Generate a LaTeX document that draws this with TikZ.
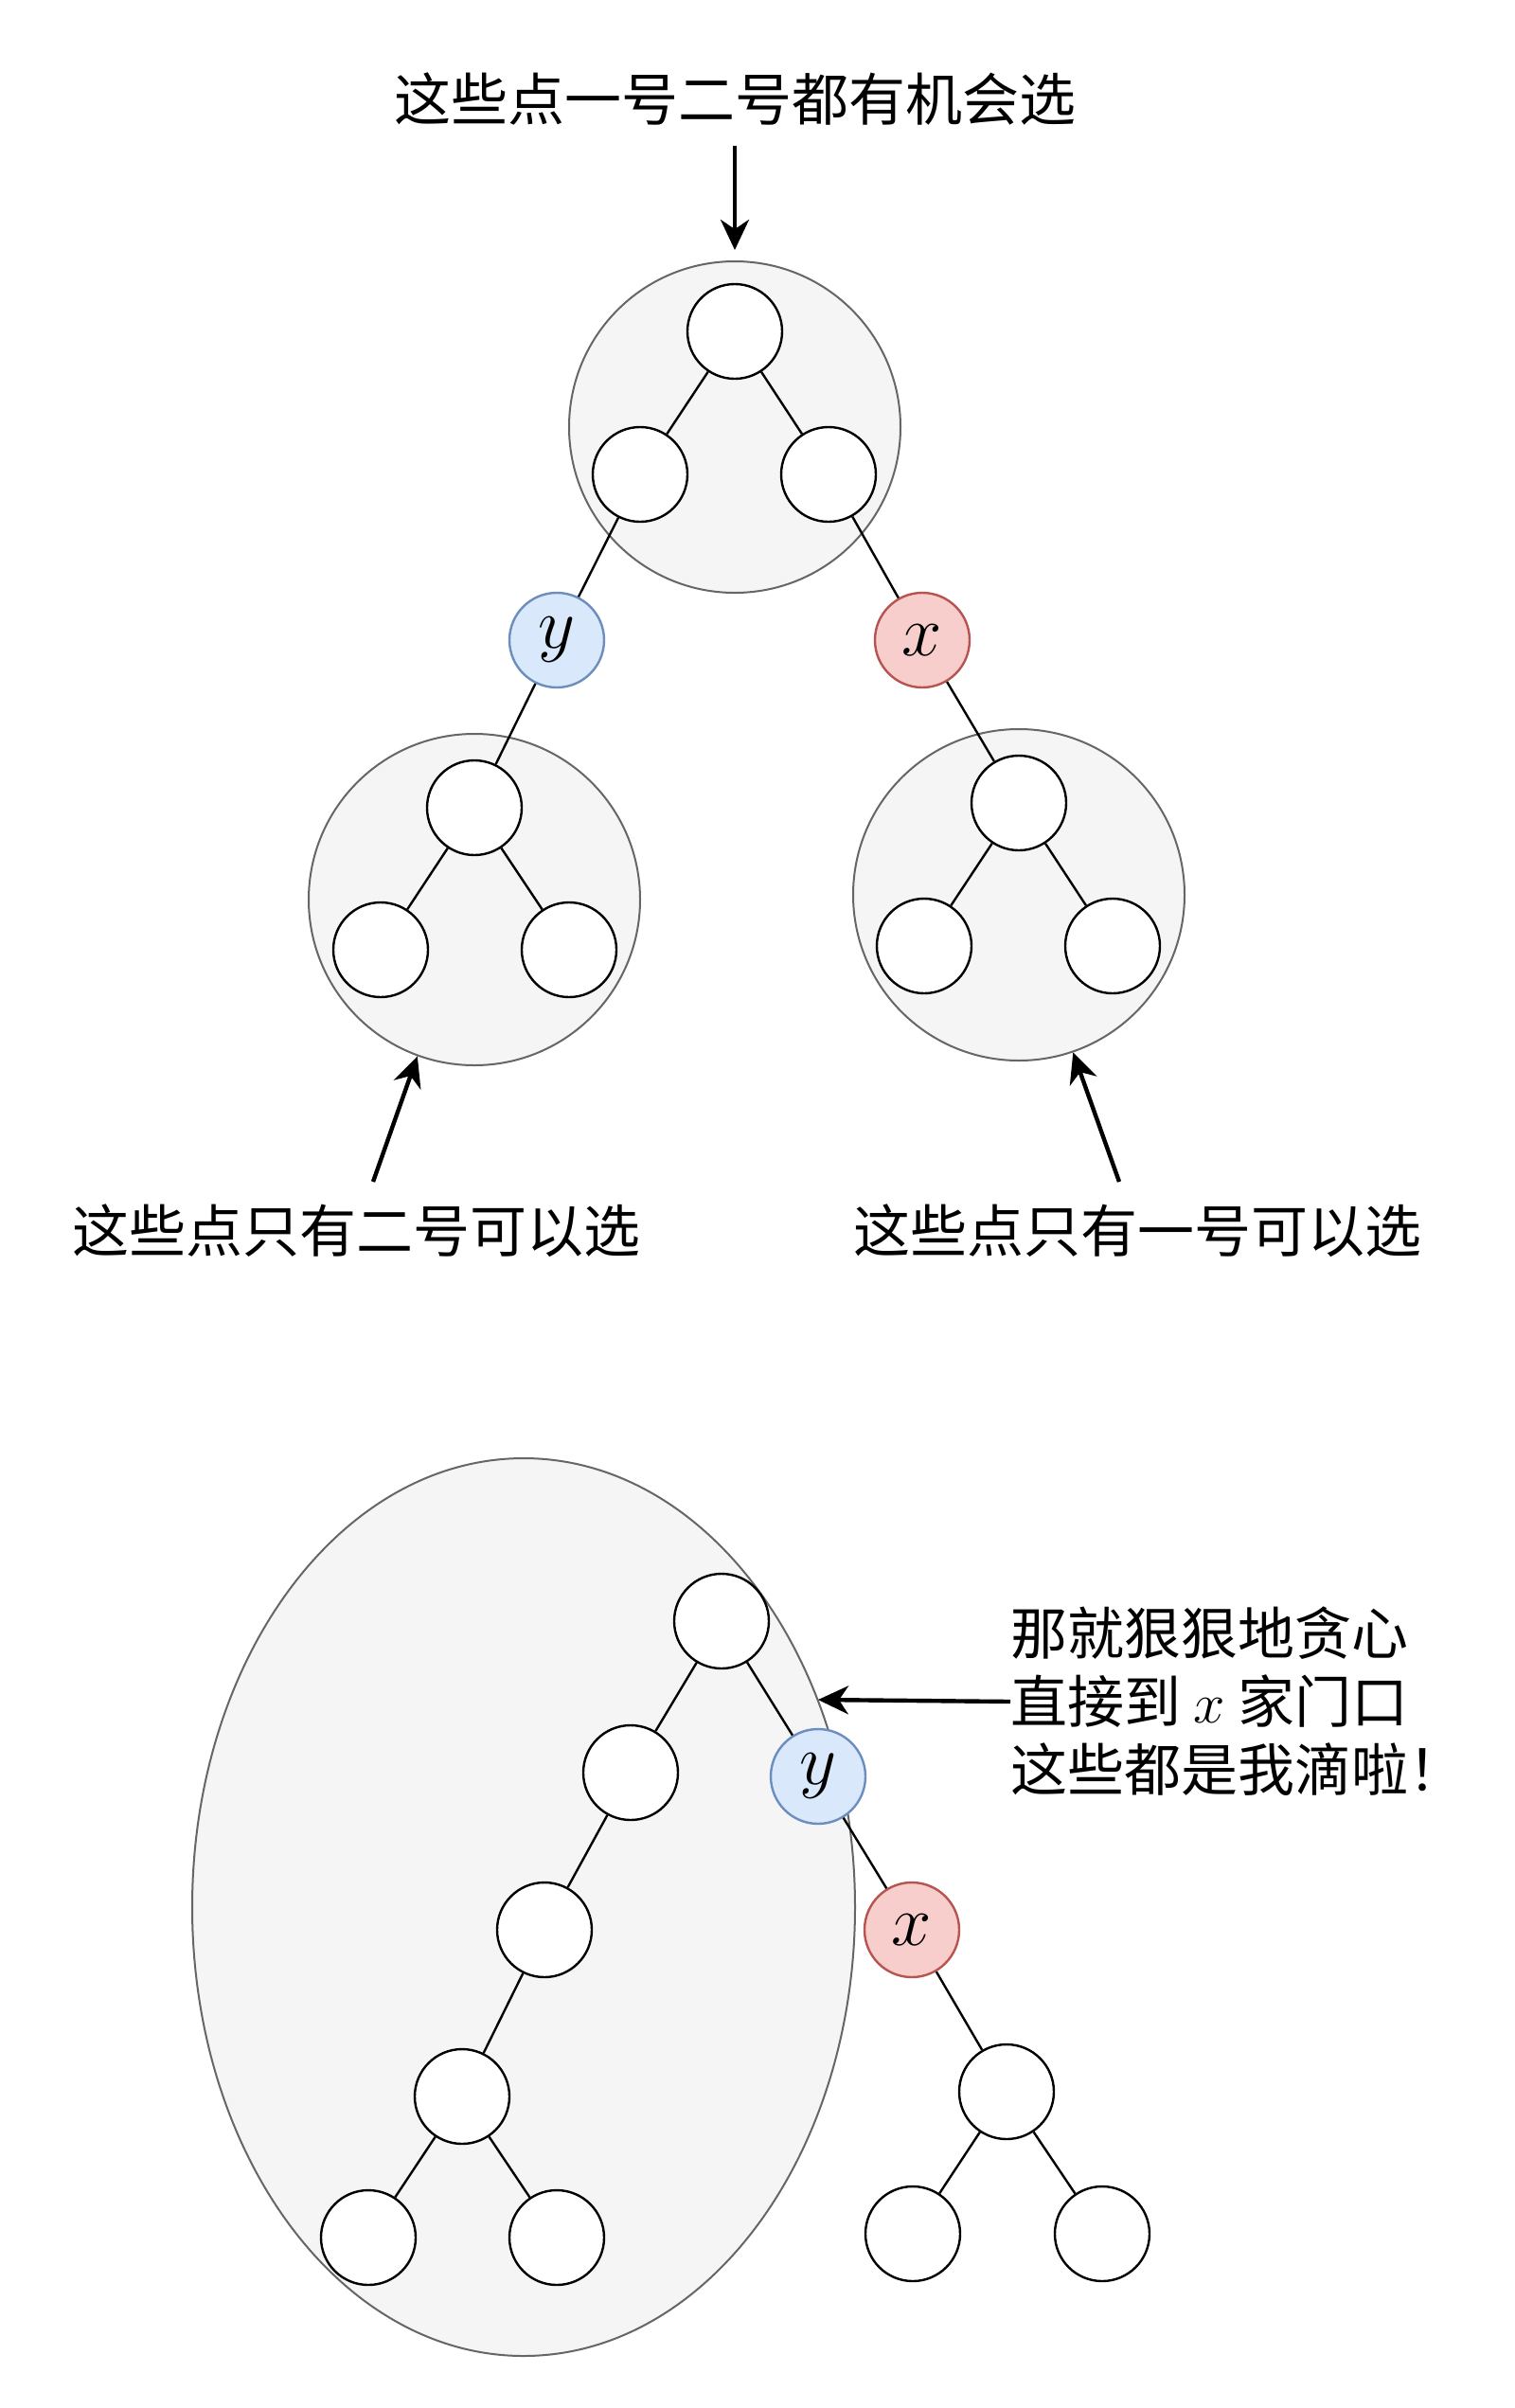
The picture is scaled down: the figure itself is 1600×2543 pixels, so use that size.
\RequirePackage{fix-cm}
\documentclass[tikz,border=0pt]{standalone}
\usepackage{fontspec}
\newfontfamily\cjk{Noto Sans CJK SC}
\usetikzlibrary{arrows.meta,shapes.geometric}
\definecolor{gfill}{HTML}{F5F5F5}
\definecolor{gline}{HTML}{666666}
\definecolor{bfill}{HTML}{DAE8FC}
\definecolor{bline}{HTML}{6C8EBF}
\definecolor{rfill}{HTML}{F8CECC}
\definecolor{rline}{HTML}{B85450}
\begin{document}
\begin{tikzpicture}[x=0.5pt,y=-0.5pt,
  tn/.style={circle,draw=black,fill=white,line width=1.2pt,minimum size=50pt,inner sep=0pt},
  yn/.style={tn,draw=bline,fill=bfill,font=\fontsize{38}{40}\selectfont},
  xn/.style={tn,draw=rline,fill=rfill,font=\fontsize{38}{40}\selectfont},
  grp/.style={circle,draw=gline,fill=gfill,line width=1pt,minimum size=175pt,inner sep=0pt},
  edge/.style={line width=1.2pt},
  arr/.style={line width=2.2pt,-{Stealth[length=16pt,width=15pt,inset=5pt]}},
  lbl/.style={font=\cjk\fontsize{30}{36}\selectfont,inner sep=0pt}
]
\useasboundingbox (0,0) rectangle (1600,2543);

% ---------- top part ----------
\node[grp] (G1) at (776,451) {};
\node[grp] (G2) at (501,950) {};
\node[grp] (G3) at (1076,945) {};

\node[tn] (T1) at (776,350) {};
\node[tn] (T2) at (676,501) {};
\node[tn] (T3) at (875,501) {};
\node[yn] (Y1) at (588,676) {$y$};
\node[xn] (X1) at (974,676) {$x$};
\node[tn] (L1) at (501,853) {};
\node[tn] (L2) at (402,1003) {};
\node[tn] (L3) at (601,1003) {};
\node[tn] (R1) at (1076,848) {};
\node[tn] (R2) at (976,999) {};
\node[tn] (R3) at (1175,999) {};

\draw[edge] (T1) -- (T2);
\draw[edge] (T1) -- (T3);
\draw[edge] (T2) -- (Y1);
\draw[edge] (T3) -- (X1);
\draw[edge] (Y1) -- (L1);
\draw[edge] (X1) -- (R1);
\draw[edge] (L1) -- (L2);
\draw[edge] (L1) -- (L3);
\draw[edge] (R1) -- (R2);
\draw[edge] (R1) -- (R3);

\node[lbl,anchor=base] (top) at (776,127) {这些点一号二号都有机会选};
\node[lbl,anchor=base] (lab1) at (376,1322) {这些点只有二号可以选};
\node[lbl,anchor=base] (lab2) at (1201,1322) {这些点只有一号可以选};

\coordinate (s0) at (776,154);
\coordinate (s1) at (394,1248);
\coordinate (s2) at (1182,1248);
\draw[arr] (s0) -- ([yshift=5.5pt]G1.north);
\draw[arr] (s1) -- (G2.250);
\draw[arr] (s2) -- (G3.289);

% ---------- bottom part ----------
\node[ellipse,draw=gline,fill=gfill,line width=1pt,minimum width=350pt,minimum height=474pt,inner sep=0pt] (E) at (553,2014) {};

\node[tn] (A) at (762,1712) {};
\node[tn] (B) at (666,1872) {};
\node[yn] (Y2) at (864,1876) {$y$};
\node[tn] (C) at (575,2038) {};
\node[xn] (X2) at (963,2038) {$x$};
\node[tn] (D) at (488,2214) {};
\node[tn] (F1) at (389,2363) {};
\node[tn] (F2) at (588,2363) {};
\node[tn] (H) at (1063,2209) {};
\node[tn] (H1) at (964,2359) {};
\node[tn] (H2) at (1164,2359) {};

\draw[edge] (A) -- (B);
\draw[edge] (A) -- (Y2);
\draw[edge] (B) -- (C);
\draw[edge] (C) -- (D);
\draw[edge] (D) -- (F1);
\draw[edge] (D) -- (F2);
\draw[edge] (Y2) -- (X2);
\draw[edge] (X2) -- (H);
\draw[edge] (H) -- (H1);
\draw[edge] (H) -- (H2);

\node[lbl,align=left,anchor=west] (note) at (1067,1797) {那就狠狠地贪心\\直接到 $x$ 家门口\\这些都是我滴啦！};
\coordinate (tipB) at (864,1795);
\draw[arr] (note.west) -- (tipB);
\end{tikzpicture}
\end{document}
